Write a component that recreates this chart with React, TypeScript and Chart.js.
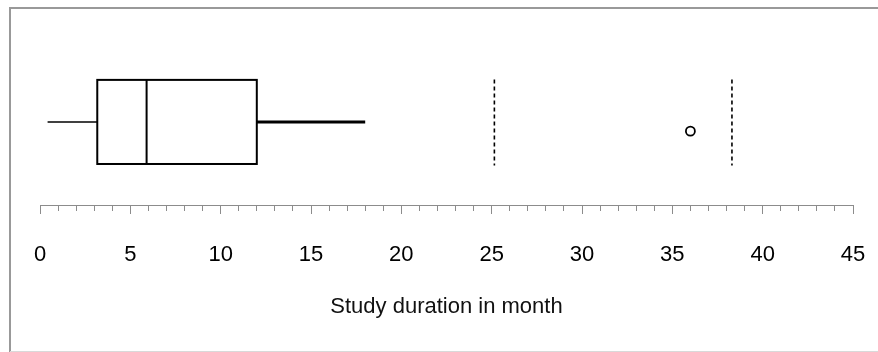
import React, { useEffect, useRef } from 'react';
import { Chart, registerables } from 'chart.js';

Chart.register(...registerables);

// Study duration (months): whisker low, Q1, median, Q3, whisker high
const boxValues = [0.42, 3.17, 5.9, 12.0, 18.0];
// Single outlying study
const outlierValues = [36.0];
// Dashed reference cut-offs
const cutoffValues = [25.15, 38.3];
// Axis range and labelled ticks
const axisRange = [0, 45];
const labelledTicks = [0, 5, 10, 15, 20, 25, 30, 35, 40, 45];
const axisTitle = 'Study duration in month';

const FONT = "'Liberation Sans', Arial, sans-serif";

const framePlugin = {
  id: 'frameAndBox',
  beforeDraw(chart: any) {
    const { ctx, width, height } = chart;
    ctx.save();
    ctx.fillStyle = '#ffffff';
    ctx.fillRect(0, 0, width, height);
    ctx.strokeStyle = '#999999';
    ctx.lineWidth = 2;
    ctx.beginPath();
    ctx.moveTo(10, height);
    ctx.lineTo(10, 8);
    ctx.lineTo(width, 8);
    ctx.stroke();
    ctx.strokeStyle = '#d9d9d9';
    ctx.lineWidth = 1;
    ctx.beginPath();
    ctx.moveTo(10, height - 0.5);
    ctx.lineTo(width, height - 0.5);
    ctx.stroke();
    ctx.restore();
  },
  beforeDatasetsDraw(chart: any) {
    const { ctx } = chart;
    const xs = chart.scales.x;
    const ys = chart.scales.y;
    const [lo, q1, med, q3, hi] = boxValues.map((v) => xs.getPixelForValue(v));
    const yc = ys.getPixelForValue(0.495);
    const yt = ys.getPixelForValue(0.745);
    const yb = ys.getPixelForValue(0.245);
    ctx.save();
    ctx.strokeStyle = '#000000';
    ctx.lineCap = 'butt';

    // lower whisker
    ctx.lineWidth = 1.4;
    ctx.beginPath();
    ctx.moveTo(lo, yc);
    ctx.lineTo(q1, yc);
    ctx.stroke();

    // upper whisker
    ctx.lineWidth = 3;
    ctx.beginPath();
    ctx.moveTo(q3, yc);
    ctx.lineTo(hi, yc);
    ctx.stroke();

    // box and median
    ctx.lineWidth = 2;
    ctx.strokeRect(q1, yt, q3 - q1, yb - yt);
    ctx.beginPath();
    ctx.moveTo(med, yt);
    ctx.lineTo(med, yb);
    ctx.stroke();

    // cut-off lines
    ctx.lineWidth = 1.6;
    ctx.setLineDash([4, 3]);
    cutoffValues.forEach((v) => {
      const px = xs.getPixelForValue(v);
      ctx.beginPath();
      ctx.moveTo(px, ys.getPixelForValue(0.748));
      ctx.lineTo(px, ys.getPixelForValue(0.236));
      ctx.stroke();
    });
    ctx.restore();
  },
};

export default function App() {
  const canvasRef = useRef<HTMLCanvasElement | null>(null);

  useEffect(() => {
    const canvas = canvasRef.current;
    if (!canvas) return;
    const chart = new Chart(canvas, {
      type: 'scatter',
      data: {
        datasets: [
          {
            data: outlierValues.map((v) => ({ x: v, y: 0.44 })),
            pointStyle: 'circle',
            pointRadius: 4.5,
            pointBorderWidth: 1.8,
            pointBorderColor: '#000000',
            pointBackgroundColor: '#ffffff',
          },
        ],
      },
      options: {
        responsive: false,
        animation: false,
        devicePixelRatio: 1,
        layout: { padding: { left: 40, right: 25, top: 37, bottom: 32 } },
        plugins: {
          legend: { display: false },
          tooltip: { enabled: false },
        },
        scales: {
          x: {
            type: 'linear',
            position: 'bottom',
            min: axisRange[0],
            max: axisRange[1],
            border: { display: true, color: '#8c8c8c', width: 1 },
            grid: {
              drawOnChartArea: false,
              drawTicks: true,
              // long tick slot; the dash pattern keeps only the short visible mark
              tickLength: 37,
              tickColor: '#8c8c8c',
              tickWidth: 1,
              tickBorderDash: (ctx: any) =>
                labelledTicks.includes(ctx.tick?.value) ? [8, 200] : [5, 200],
            },
            ticks: {
              stepSize: 1,
              autoSkip: false,
              maxRotation: 0,
              padding: 0,
              color: '#000000',
              font: { family: FONT, size: 22 },
              callback: (v: any) => (labelledTicks.includes(Number(v)) ? String(v) : ''),
            },
            title: {
              display: true,
              text: axisTitle,
              color: '#111111',
              font: { family: FONT, size: 22 },
              padding: { top: 25, bottom: 0 },
            },
          },
          y: {
            display: false,
            min: 0,
            max: 1,
          },
        },
      },
      plugins: [framePlugin],
    });
    return () => chart.destroy();
  }, []);

  return (
    <div style={{ position: 'fixed', left: 0, top: 0, width: 878, height: 352, background: '#fff' }}>
      <canvas ref={canvasRef} width={878} height={352} style={{ display: 'block' }} />
    </div>
  );
}
